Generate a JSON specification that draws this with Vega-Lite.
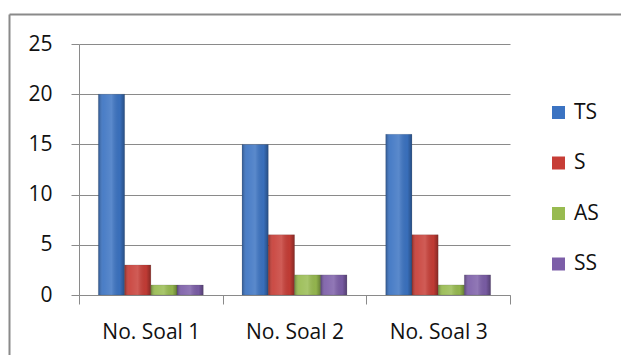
{
  "$schema": "https://vega.github.io/schema/vega-lite/v6.json",
  "usermeta": {"embedOptions": {"actions": false}},
  "width": 612,
  "height": 341,
  "autosize": {"type": "none"},
  "padding": {"left": 9, "top": 14, "right": 0, "bottom": 0},
  "background": "#ffffff",
  "config": {
    "font": "Open Sans",
    "view": {"stroke": null},
    "axis": {"labelFont": "Open Sans", "labelFontSize": 21, "labelColor": "#111111", "title": null}
  },
  "data": {
    "values": [
      {"soal": "No. Soal 1", "series": "TS", "value": 20},
      {"soal": "No. Soal 1", "series": "S", "value": 3},
      {"soal": "No. Soal 1", "series": "AS", "value": 1},
      {"soal": "No. Soal 1", "series": "SS", "value": 1},
      {"soal": "No. Soal 2", "series": "TS", "value": 15},
      {"soal": "No. Soal 2", "series": "S", "value": 6},
      {"soal": "No. Soal 2", "series": "AS", "value": 2},
      {"soal": "No. Soal 2", "series": "SS", "value": 2},
      {"soal": "No. Soal 3", "series": "TS", "value": 16},
      {"soal": "No. Soal 3", "series": "S", "value": 6},
      {"soal": "No. Soal 3", "series": "AS", "value": 1},
      {"soal": "No. Soal 3", "series": "SS", "value": 2}
    ]
  },
  "resolve": {"scale": {"x": "independent", "y": "independent"}},
  "layer": [
    {
      "encoding": {
        "x": {
          "field": "soal",
          "type": "nominal",
          "scale": {"range": [70, 501], "paddingInner": 0, "paddingOuter": 0},
          "axis": {
            "orient": "bottom",
            "offset": -60,
            "labelAngle": 0,
            "tickBand": "extent",
            "tickSize": 9,
            "tickColor": "#8a8a8a",
            "domainColor": "#8a8a8a",
            "labelPadding": 17
          }
        },
        "xOffset": {
          "field": "series",
          "type": "nominal",
          "sort": ["TS", "S", "AS", "SS"],
          "scale": {"paddingInner": 0, "paddingOuter": 0.74}
        },
        "y": {
          "field": "value",
          "type": "quantitative",
          "scale": {"domain": [0, 25], "range": [281, 30], "nice": false},
          "axis": {
            "orient": "left",
            "offset": -70,
            "values": [0, 5, 10, 15, 20, 25],
            "tickSize": 8,
            "tickColor": "#8a8a8a",
            "domainColor": "#8a8a8a",
            "gridColor": "#8a8a8a",
            "grid": true,
            "labelPadding": 19
          }
        }
      },
      "layer": [
        {
          "mark": {"type": "bar", "stroke": "#3a3a3a", "strokeOpacity": 0.25, "strokeWidth": 0.6},
          "encoding": {
            "color": {
              "field": "series",
              "type": "nominal",
              "scale": {
                "domain": ["TS", "S", "AS", "SS"],
                "range": ["#3b73c2", "#c73d36", "#98bb50", "#7c5ea8"]
              },
              "legend": {
                "orient": "none",
                "legendX": 539,
                "legendY": 88,
                "title": null,
                "padding": 0,
                "symbolType": "square",
                "symbolSize": 169,
                "symbolStrokeWidth": 0,
                "labelFontSize": 21,
                "labelColor": "#111111",
                "labelOffset": 5,
                "rowPadding": 28.5
              }
            }
          }
        },
        {
          "mark": {
            "type": "bar",
            "color": {
              "gradient": "linear",
              "x1": 0, "y1": 0, "x2": 1, "y2": 0,
              "stops": [
                {"offset": 0, "color": "rgba(0,0,0,0.28)"},
                {"offset": 0.18, "color": "rgba(255,255,255,0.08)"},
                {"offset": 0.5, "color": "rgba(255,255,255,0.16)"},
                {"offset": 0.82, "color": "rgba(0,0,0,0.04)"},
                {"offset": 1, "color": "rgba(0,0,0,0.32)"}
              ]
            }
          },
          "encoding": {}
        }
      ]
    },
    {
      "mark": {"type": "point", "opacity": 0},
      "encoding": {
        "x": {
          "field": "soal",
          "type": "nominal",
          "axis": {
            "orient": "top",
            "offset": 0,
            "domainColor": "#8a8a8a",
            "domainWidth": 2,
            "ticks": false,
            "labels": false,
            "grid": false
          }
        },
        "y": {
          "field": "value",
          "type": "quantitative",
          "axis": {
            "orient": "left",
            "offset": 0,
            "domainColor": "#8a8a8a",
            "domainWidth": 2,
            "ticks": false,
            "labels": false,
            "grid": false
          }
        }
      }
    }
  ]
}
